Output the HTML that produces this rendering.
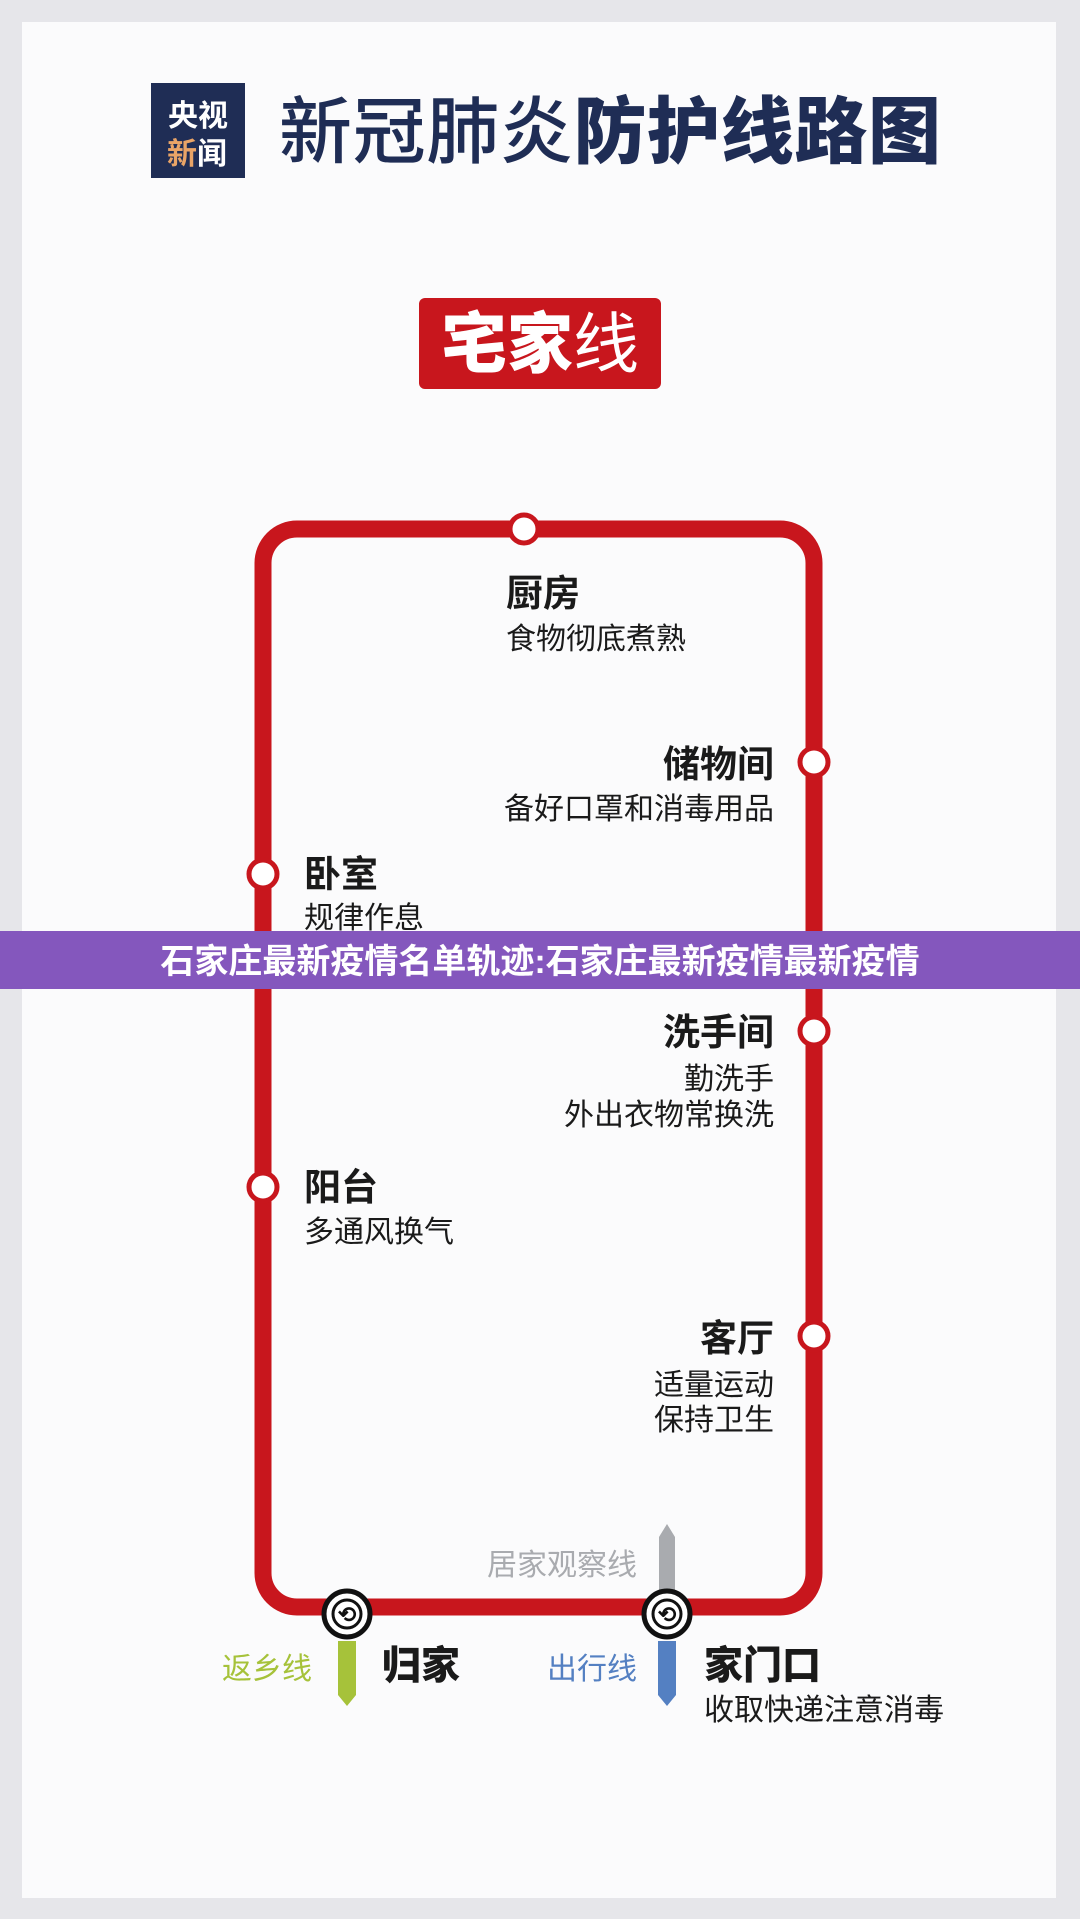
<!DOCTYPE html>
<html><head><meta charset="utf-8"><style>
html,body{margin:0;padding:0;background:#e6e6ea;}
svg{display:block}
text{font-family:"Liberation Sans","Noto Sans CJK SC",sans-serif;}
</style></head><body>
<svg width="1080" height="1919" viewBox="0 0 1080 1919" xmlns="http://www.w3.org/2000/svg">
<rect x="0" y="0" width="1080" height="1919" fill="#e6e6ea"/>
<rect x="22" y="22" width="1034" height="1876" fill="#fbfbfc"/>
<rect x="151" y="83" width="94" height="95" fill="#1f2d55"/>
<text x="198" y="126" font-size="30" font-weight="700" fill="#fff" text-anchor="middle">央视</text>
<text x="167" y="164" font-size="30" font-weight="700" fill="#e9a467">新</text>
<text x="197" y="164" font-size="30" font-weight="700" fill="#fff">闻</text>
<text x="279" y="157" font-size="73" font-weight="500" fill="#1f2d55" textLength="662" lengthAdjust="spacing">新冠肺炎<tspan font-weight="900">防护线路图</tspan></text>
<rect x="419" y="298" width="242" height="91" rx="6" fill="#c8161d"/>
<text x="540" y="367" font-size="66" font-weight="900" fill="#fff" text-anchor="middle">宅家<tspan font-weight="400">线</tspan></text>
<rect x="263" y="529" width="551" height="1078" rx="34" fill="none" stroke="#c8161d" stroke-width="17"/>
<g fill="#fff" stroke="#c8161d" stroke-width="5">
<circle cx="524" cy="529" r="14"/>
<circle cx="814" cy="762" r="14"/>
<circle cx="263" cy="874" r="14"/>
<circle cx="814" cy="1031" r="14"/>
<circle cx="263" cy="1187" r="14"/>
<circle cx="814" cy="1336" r="14"/>
</g>
<polygon points="659,1537 667,1524 675,1537 675,1590 659,1590" fill="#a9abaf"/>
<polygon points="338,1641 356,1641 356,1695 347,1706 338,1695" fill="#a6c23a"/>
<polygon points="658,1641 676,1641 676,1695 667,1706 658,1695" fill="#5480c2"/>
<g>
<circle cx="347" cy="1614" r="23" fill="#fff" stroke="#111" stroke-width="5"/>
<circle cx="347" cy="1614" r="14" fill="#fff" stroke="#111" stroke-width="3"/>
<text x="347" y="1622" font-size="22" font-weight="700" text-anchor="middle" fill="#111">⟲</text>
<circle cx="667" cy="1614" r="23" fill="#fff" stroke="#111" stroke-width="5"/>
<circle cx="667" cy="1614" r="14" fill="#fff" stroke="#111" stroke-width="3"/>
<text x="667" y="1622" font-size="22" font-weight="700" text-anchor="middle" fill="#111">⟲</text>
</g>
<g fill="#1a1a1a">
<text x="506" y="606" font-size="37" font-weight="700">厨房</text>
<text x="506" y="649" font-size="30">食物彻底煮熟</text>
<text x="774" y="777" font-size="37" font-weight="700" text-anchor="end">储物间</text>
<text x="774" y="819" font-size="30" text-anchor="end">备好口罩和消毒用品</text>
<text x="304" y="887" font-size="37" font-weight="700">卧室</text>
<text x="304" y="928" font-size="30">规律作息</text>
<text x="774" y="1045" font-size="37" font-weight="700" text-anchor="end">洗手间</text>
<text x="774" y="1089" font-size="30" text-anchor="end">勤洗手</text>
<text x="774" y="1125" font-size="30" text-anchor="end">外出衣物常换洗</text>
<text x="304" y="1200" font-size="37" font-weight="700">阳台</text>
<text x="304" y="1242" font-size="30">多通风换气</text>
<text x="774" y="1351" font-size="37" font-weight="700" text-anchor="end">客厅</text>
<text x="774" y="1395" font-size="30" text-anchor="end">适量运动</text>
<text x="774" y="1430" font-size="30" text-anchor="end">保持卫生</text>
<text x="382" y="1679" font-size="39" font-weight="900">归家</text>
<text x="704" y="1679" font-size="39" font-weight="900">家门口</text>
<text x="704" y="1720" font-size="30">收取快递注意消毒</text>
</g>
<text x="637" y="1575" font-size="30" fill="#a9abaf" text-anchor="end">居家观察线</text>
<text x="312" y="1679" font-size="30" fill="#a6c23a" text-anchor="end">返乡线</text>
<text x="637" y="1679" font-size="30" fill="#5480c2" text-anchor="end">出行线</text>
<rect x="0" y="931" width="1080" height="58" fill="#8457bd"/>
<text x="540" y="973" font-size="34" font-weight="700" fill="#fff" text-anchor="middle">石家庄最新疫情名单轨迹:石家庄最新疫情最新疫情</text>
</svg>
</body></html>
